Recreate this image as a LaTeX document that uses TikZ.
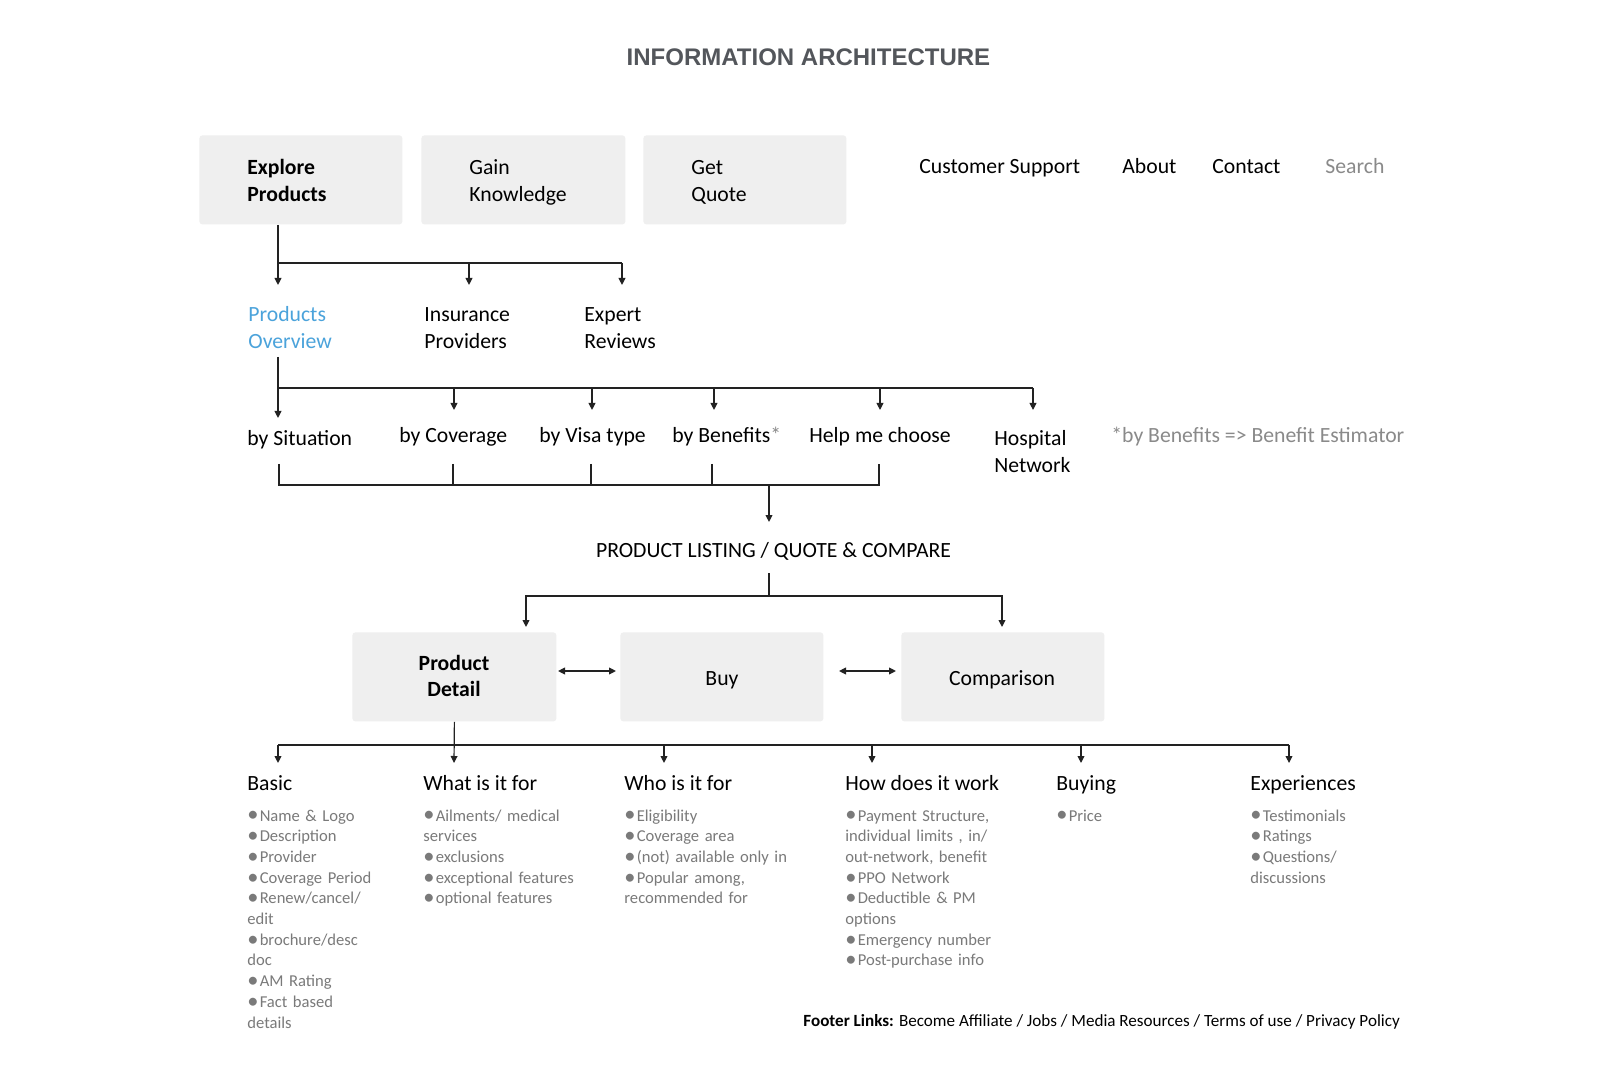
\documentclass[tikz,border=0pt]{standalone}
\usepackage{fontspec}
\setmainfont{Carlito}
\newfontfamily\titlefont{Liberation Sans}
\usetikzlibrary{arrows.meta}
\definecolor{boxgray}{HTML}{EFEFEF}
\definecolor{titlegray}{HTML}{53565B}
\definecolor{linkblue}{HTML}{4BA3DB}
\definecolor{softgray}{HTML}{8A8A8A}
\definecolor{bulletgray}{HTML}{7A7A7A}
\definecolor{linecol}{HTML}{222222}
\newcommand\mainsz{\fontsize{10.85pt}{13.3pt}\selectfont}
\newcommand\smallsz{\fontsize{8.3pt}{10.35pt}\selectfont}
\newcommand\mybul{\raisebox{-0.12ex}{\scalebox{1.35}{\textbullet}}\hspace{0.6pt}}
\begin{document}
\begin{tikzpicture}[x=0.5pt,y=-0.5pt,
  line/.style={draw=linecol, line width=0.6pt},
  arr/.style={line, -{Triangle[length=3.5pt,width=3.4pt]}},
  dbl/.style={line, {Triangle[length=3.5pt,width=3.4pt]}-{Triangle[length=3.5pt,width=3.4pt]}},
  box/.style={fill=boxgray, rounded corners=1.5pt, inner sep=0, anchor=north west, minimum height=44.5pt},
  txt/.style={inner sep=0, anchor=base west, font=\mainsz, align=left},
  ml/.style={txt, text width=#1},
  head/.style={txt},
  blist/.style={ml=125pt, font=\smallsz, text=bulletgray}
]
\useasboundingbox[fill=white] (0,0) rectangle (1617,1080);

% title
\node[inner sep=0, anchor=base, font=\titlefont\bfseries\fontsize{12pt}{14pt}\selectfont, text=titlegray] (title) at (808.5,66) {INFORMATION ARCHITECTURE};

% top boxes
\node[box, minimum width=101.5pt] (ep) at (199,135) {};
\node[box, minimum width=102pt] (gk) at (421,135) {};
\node[box, minimum width=101.5pt] (gq) at (643,135) {};
\node[ml=90pt, font=\mainsz\bfseries] (ept) at (247,175) {Explore\\Products};
\node[ml=90pt] (gkt) at (469,175) {Gain\\Knowledge};
\node[ml=90pt] (gqt) at (691,175) {Get\\Quote};

% nav
\node[txt] (cs) at (919,174) {Customer Support};
\node[txt] (ab) at (1122,174) {About};
\node[txt] (ct) at (1212,174) {Contact};
\node[txt, text=softgray] (se) at (1325,174) {Search};

% level 2
\node[ml=90pt, text=linkblue] (po) at (248,322) {Products\\Overview};
\node[ml=90pt] (ip) at (424,322) {Insurance\\Providers};
\node[ml=90pt] (er) at (584,322) {Expert\\Reviews};

% level 3
\node[txt] (bs) at (247,446) {by Situation};
\node[txt] (bc) at (399,443) {by Coverage};
\node[txt] (bv) at (539,443) {by Visa type};
\node[txt] (bb) at (672,443) {by Benefits\textcolor{softgray}{*}};
\node[txt] (hm) at (809,443) {Help me choose};
\node[ml=90pt] (hn) at (994,446) {Hospital\\Network};
\node[txt, text=softgray] (note) at (1111,443) {*by Benefits => Benefit Estimator};

% product listing
\node[txt, anchor=base] (pl) at (773.5,557) {PRODUCT LISTING / QUOTE \& COMPARE};

% row 2 boxes
\node[box, minimum width=102pt] (pd) at (352,632) {};
\node[box, minimum width=101.5pt] (buy) at (620,632) {};
\node[box, minimum width=101.5pt] (cmp) at (901,632) {};
\node[ml=100pt, align=center, anchor=base, font=\mainsz\bfseries] (pdt) at (454,670) {Product\\Detail};
\node[txt, anchor=base] (buyt) at (722,685) {Buy};
\node[txt, anchor=base] (cmpt) at (1002,685) {Comparison};

% level 4 headings
\node[head] (hbasic) at (247,790) {Basic};
\node[head] (hwhat) at (423,790) {What is it for};
\node[head] (hwho) at (624,790) {Who is it for};
\node[head] (hhow) at (845,790) {How does it work};
\node[head] (hbuying) at (1056,790) {Buying};
\node[head] (hexp) at (1250,790) {Experiences};

% bullet lists
\node[blist] (lbasic) at (247,821) {\mybul Name \& Logo\\\mybul Description\\\mybul Provider\\\mybul Coverage Period\\\mybul Renew/cancel/\\edit\\\mybul brochure/desc\\doc\\\mybul AM Rating\\\mybul Fact based\\details};
\node[blist] (lwhat) at (423,821) {\mybul Ailments/ medical\\services\\\mybul exclusions\\\mybul exceptional features\\\mybul optional features};
\node[blist] (lwho) at (624,821) {\mybul Eligibility\\\mybul Coverage area\\\mybul (not) available only in\\\mybul Popular among,\\recommended for};
\node[blist] (lhow) at (845,821) {\mybul Payment Structure,\\individual limits , in/\\out-network, benefit\\\mybul PPO Network\\\mybul Deductible \& PM\\options\\\mybul Emergency number\\\mybul Post-purchase info};
\node[blist] (lbuying) at (1056,821) {\mybul Price};
\node[blist] (lexp) at (1250,821) {\mybul Testimonials\\\mybul Ratings\\\mybul Questions/\\discussions};

% footer
\node[txt, font=\fontsize{8.55pt}{10.5pt}\selectfont] (footer) at (803,1026) {\textbf{Footer Links:} Become Affiliate / Jobs / Media Resources / Terms of use / Privacy Policy};

% connector 1
\coordinate (j1a) at (278,263);
\coordinate (j1b) at (469,263);
\coordinate (j1c) at (622,263);
\coordinate (t1a) at (278,285);
\coordinate (t1b) at (469,285);
\coordinate (t1c) at (622,285);
\draw[line] (ep.south -| j1a) -- (j1a) -- (j1c);
\draw[arr] (j1a) -- (t1a);
\draw[arr] (j1b) -- (t1b);
\draw[arr] (j1c) -- (t1c);

% connector 2
\coordinate (s2) at (278,357);
\coordinate (j2a) at (278,388);
\coordinate (j2b) at (454,388);
\coordinate (j2c) at (592,388);
\coordinate (j2d) at (714,388);
\coordinate (j2e) at (880,388);
\coordinate (j2f) at (1033,388);
\coordinate (t2a) at (278,418);
\coordinate (t2b) at (454,410);
\coordinate (t2c) at (592,410);
\coordinate (t2d) at (714,410);
\coordinate (t2e) at (880,410);
\coordinate (t2f) at (1033,410);
\draw[line] (s2) -- (j2a) -- (j2f);
\foreach \k in {a,b,c,d,e,f} \draw[arr] (j2\k) -- (t2\k);

% connector 3
\coordinate (u3a) at (279,464);
\coordinate (u3b) at (453,464);
\coordinate (u3c) at (591,464);
\coordinate (u3d) at (712,464);
\coordinate (u3e) at (879,464);
\coordinate (d3a) at (279,485);
\coordinate (d3b) at (453,485);
\coordinate (d3c) at (591,485);
\coordinate (d3d) at (712,485);
\coordinate (d3e) at (879,485);
\coordinate (m3) at (769,485);
\coordinate (t3) at (769,522);
\draw[line] (u3a) -- (d3a) -- (d3e) -- (u3e);
\draw[line] (u3b) -- (d3b);
\draw[line] (u3c) -- (d3c);
\draw[line] (u3d) -- (d3d);
\draw[arr] (m3) -- (t3);

% connector 4
\coordinate (s4) at (769,573);
\coordinate (j4m) at (769,596);
\coordinate (j4l) at (526,596);
\coordinate (j4r) at (1002,596);
\coordinate (t4l) at (526,627);
\coordinate (t4r) at (1002,627);
\draw[line] (s4) -- (j4m);
\draw[arr] (j4m) -- (j4l) -- (t4l);
\draw[arr] (j4m) -- (j4r) -- (t4r);

% double arrows
\coordinate (da1) at (558,671);
\coordinate (da2) at (616,671);
\coordinate (db1) at (839,671);
\coordinate (db2) at (896,671);
\draw[dbl] (da1) -- (da2);
\draw[dbl] (db1) -- (db2);

% connector 5
\coordinate (j5a) at (278,745);
\coordinate (j5c) at (664,745);
\coordinate (j5d) at (872,745);
\coordinate (j5e) at (1081,745);
\coordinate (j5f) at (1289,745);
\coordinate (t5a) at (278,763);
\coordinate (t5b) at (454,763);
\coordinate (t5c) at (664,763);
\coordinate (t5d) at (872,763);
\coordinate (t5e) at (1081,763);
\coordinate (t5f) at (1289,763);
\draw[line] (j5a) -- (j5f);
\draw[arr] (pd.south) -- (t5b);
\foreach \k in {a,c,d,e,f} \draw[arr] (j5\k) -- (t5\k);
\end{tikzpicture}
\end{document}
